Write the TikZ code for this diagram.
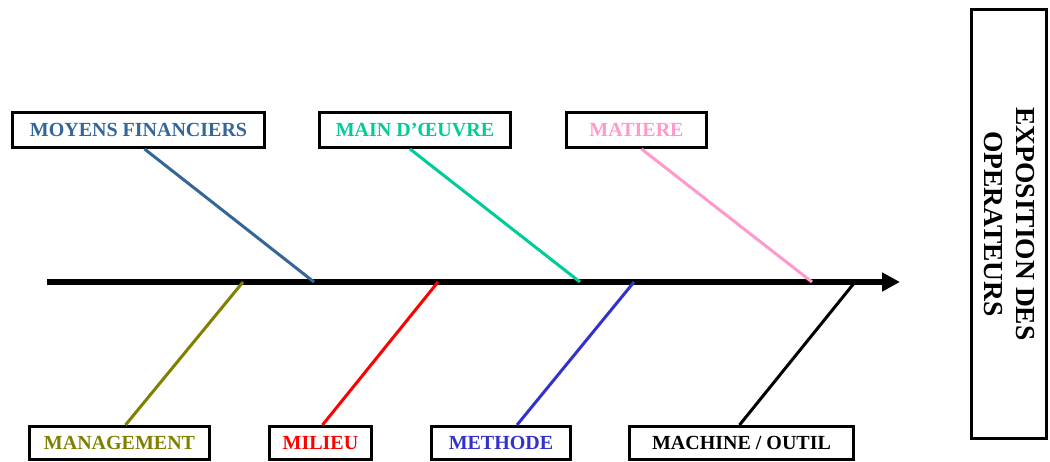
\documentclass[tikz,border=0pt]{standalone}
\usepackage{fontspec}
\setmainfont{Liberation Serif}
\usetikzlibrary{arrows.meta}
\definecolor{financeblue}{RGB}{51,102,153}
\definecolor{laborgreen}{RGB}{0,204,153}
\definecolor{matterpink}{RGB}{255,153,204}
\definecolor{manageolive}{RGB}{128,128,0}
\definecolor{methodblue}{RGB}{51,51,204}
\begin{document}
\begin{tikzpicture}
[x = 1pt, y = -1pt, every node/.style = {shape = rectangle, draw, line width = 3pt, fill = white, inner sep = 0pt, align = center, font = \bfseries\fontsize{20}{24}\selectfont}, bone/.style = {line width = 3pt}]
\useasboundingbox (0,0) rectangle (1050,462);
% spine
\coordinate (tail) at (47,282);
\coordinate (head) at (900,282);
\draw[line width = 6.5pt, -{Triangle[length=18pt,width=18pt]}] (tail) -- (head);
\coordinate (s1) at (314,282);
\coordinate (s2) at (580,282);
\coordinate (s3) at (812,282);
\coordinate (b1) at (243,282);
\coordinate (b2) at (438,282);
\coordinate (b3) at (634,282);
\coordinate (b4) at (855,282);
% causes, top row
\node[minimum width = 252pt, minimum height = 35pt, text = financeblue] (finance) at (138.5,130) {MOYENS FINANCIERS};
\node[minimum width = 191pt, minimum height = 35pt, text = laborgreen] (labor) at (415,130) {MAIN D’ŒUVRE};
\node[minimum width = 140pt, minimum height = 35pt, text = matterpink] (matter) at (636.5,130) {MATIERE};
% causes, bottom row
\node[minimum width = 180pt, minimum height = 33pt, text = manageolive] (manage) at (119.5,443) {MANAGEMENT};
\node[minimum width = 102pt, minimum height = 33pt, text = red] (milieu) at (320.5,443) {MILIEU};
\node[minimum width = 139pt, minimum height = 33pt, text = methodblue] (method) at (501,443) {METHODE};
\node[minimum width = 224pt, minimum height = 33pt, text = black] (machine) at (741.5,443) {MACHINE / OUTIL};
% effect
\node[rotate = -90, minimum width = 429pt, minimum height = 75pt, font = \bfseries\fontsize{27.5}{32}\selectfont] (effect) at (1009,224) {EXPOSITION DES\\OPERATEURS};
% bones
\draw[bone, financeblue] ([xshift=6pt]finance.south) -- (s1);
\draw[bone, laborgreen] ([xshift=-5pt]labor.south) -- (s2);
\draw[bone, matterpink] ([xshift=5pt]matter.south) -- (s3);
\draw[bone, manageolive] ([xshift=6pt]manage.north) -- (b1);
\draw[bone, red] ([xshift=2pt]milieu.north) -- (b2);
\draw[bone, methodblue] ([xshift=16pt]method.north) -- (b3);
\draw[bone, black] ([xshift=-2pt]machine.north) -- (b4);
\end{tikzpicture}
\end{document}
